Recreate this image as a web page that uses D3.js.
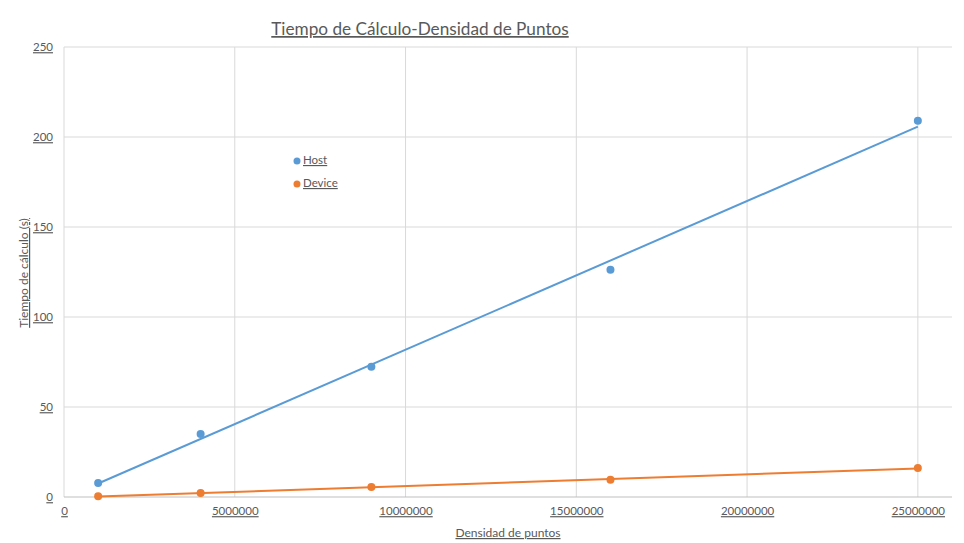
<!DOCTYPE html>
<html>
<head>
<meta charset="utf-8">
<script src="https://cdn.jsdelivr.net/npm/d3@7"></script>
<style>
  body { margin: 0; background: #fff; }
  text { font-family: Lato, "Open Sans", sans-serif; fill: #595959; text-decoration: underline; }
</style>
</head>
<body>
<div id="chart"></div>
<script>
// datos
const densidad = [1000000, 4000000, 9000000, 16000000, 25000000];
const hostTiempo = [7.8, 35, 72.4, 126.2, 209];
const deviceTiempo = [0.35, 2.2, 5.5, 9.6, 16.1];
const xTicks = [0, 5000000, 10000000, 15000000, 20000000, 25000000];
const yTicks = [0, 50, 100, 150, 200, 250];

const width = 964, height = 543;
const margin = { top: 47, right: 12, bottom: 46, left: 64 };

const svg = d3.select("#chart")
    .append("svg")
    .attr("width", width)
    .attr("height", height);

let x = d3.scaleLinear().domain([0, 26000000]).range([margin.left, width - margin.right]);
let y = d3.scaleLinear().domain([0, 250]).range([height - margin.bottom, margin.top]);

// grid
const grid = svg.append("g").attr("class", "grid");
grid.selectAll("line.gx").data(xTicks).enter().append("line")
    .attr("x1", d => x(d)).attr("x2", d => x(d))
    .attr("y1", y(250)).attr("y2", y(0))
    .attr("stroke", "#d9d9d9").attr("stroke-width", 1);
grid.selectAll("line.gy").data(yTicks).enter().append("line")
    .attr("x1", x.range()[0]).attr("x2", x.range()[1])
    .attr("y1", d => y(d)).attr("y2", d => y(d))
    .attr("stroke", d => d == 0 ? "#bfbfbf" : "#d9d9d9").attr("stroke-width", 1);

// etiquetas de ejes
const xAxis = d3.axisBottom(x).tickValues(xTicks).tickSize(0).tickPadding(10).tickFormat(d3.format("d"));
const yAxis = d3.axisLeft(y).tickValues(yTicks).tickSize(0).tickPadding(11).tickFormat(d3.format("d"));

const xAxisGroup = svg.append("g")
    .attr("transform", `translate(0, ${y(0)})`)
    .call(xAxis);
const yAxisGroup = svg.append("g")
    .attr("transform", `translate(${margin.left}, 0)`)
    .call(yAxis);
[xAxisGroup, yAxisGroup].forEach(g => {
    g.select(".domain").remove();
    g.selectAll("text").style("font-size", "11.5px").attr("fill", "#595959")
        .style("font-family", "Lato, sans-serif");
});

// tendencia lineal (minimos cuadrados)
const linreg = (xs, ys) => {
    const mx = d3.mean(xs), my = d3.mean(ys);
    const sxy = d3.sum(xs, (v, i) => (v - mx) * (ys[i] - my));
    const sxx = d3.sum(xs, v => (v - mx) * (v - mx));
    const b = sxy / sxx;
    return v => my + b * (v - mx);
};

const series = [
    { name: "Host", values: hostTiempo, color: "#5b9bd5" },
    { name: "Device", values: deviceTiempo, color: "#ed7d31" }
];

series.forEach(s => {
    const f = linreg(densidad, s.values);
    const ends = d3.extent(densidad);
    svg.append("line")
        .attr("x1", x(ends[0])).attr("y1", y(f(ends[0])))
        .attr("x2", x(ends[1])).attr("y2", y(f(ends[1])))
        .attr("stroke", s.color).attr("stroke-width", 2);
    svg.append("g").selectAll("circle")
        .data(densidad.map((d, i) => [d, s.values[i]]))
        .enter().append("circle")
        .attr("cx", d => x(d[0]))
        .attr("cy", d => y(d[1]))
        .attr("r", 4)
        .attr("fill", s.color);
});

// leyenda
const legend = svg.append("g").attr("transform", "translate(297, 160)");
series.forEach((s, i) => {
    legend.append("circle").attr("cx", 0).attr("cy", i * 23 + 1).attr("r", 3.5).attr("fill", s.color);
    legend.append("text").attr("x", 6).attr("y", i * 23 + 4)
        .style("font-size", "11.5px").text(s.name);
});

// titulos
svg.append("text")
    .attr("x", 420).attr("y", 35)
    .attr("text-anchor", "middle")
    .style("font-size", "17.2px")
    .text("Tiempo de Cálculo-Densidad de Puntos");

svg.append("text")
    .attr("transform", "rotate(-90)")
    .attr("x", -273).attr("y", 28)
    .attr("text-anchor", "middle")
    .style("font-size", "12px")
    .text("Tiempo de cálculo (s)");

svg.append("text")
    .attr("x", 508).attr("y", 537)
    .attr("text-anchor", "middle")
    .style("font-size", "12px")
    .text("Densidad de puntos");
</script>
</body>
</html>
